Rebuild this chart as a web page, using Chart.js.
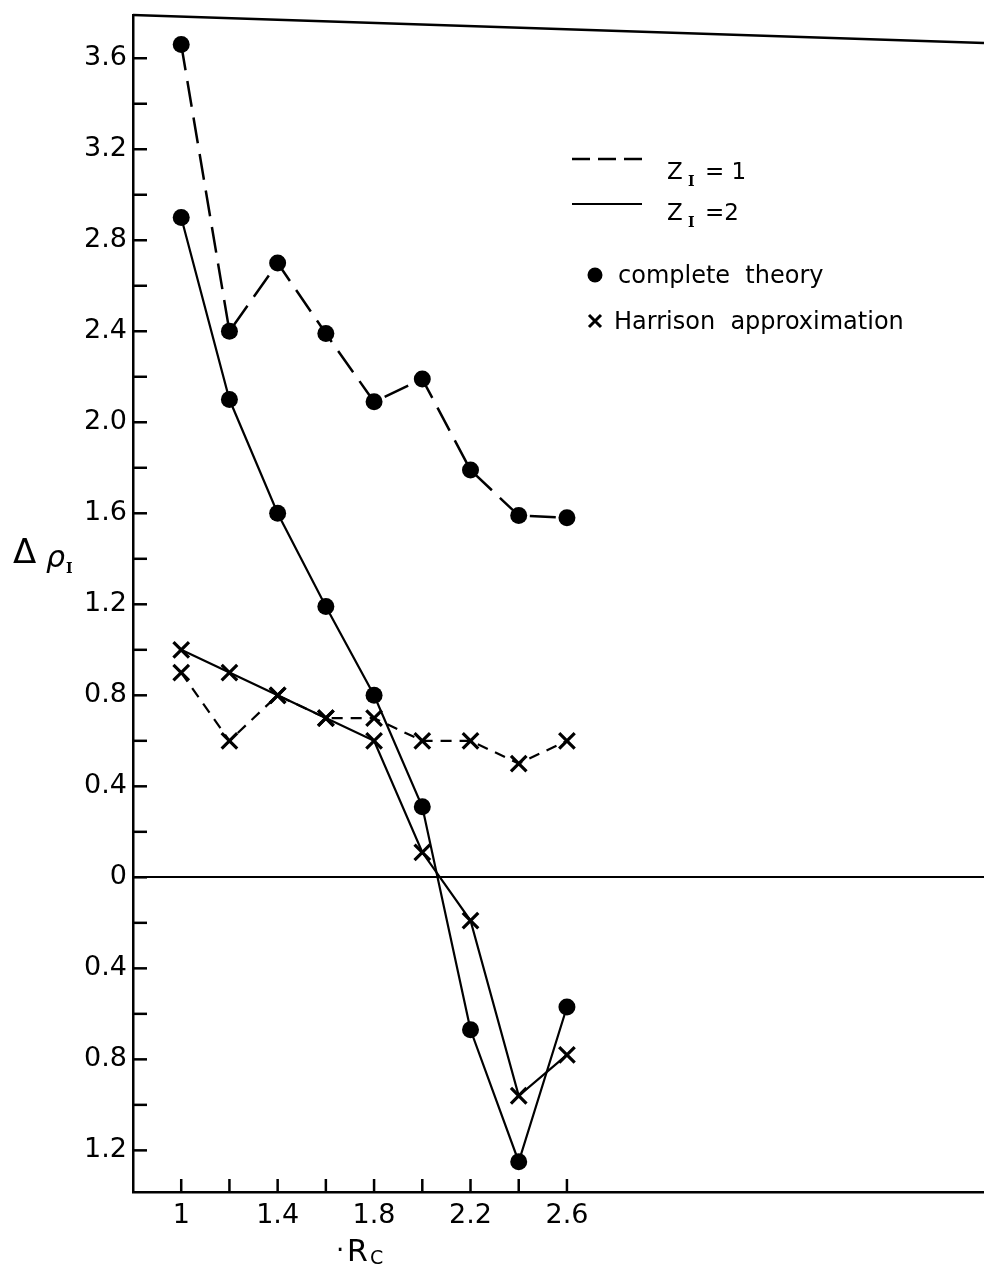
<!DOCTYPE html>
<html lang="en">
<head>
<meta charset="UTF-8">
<title>Delta rho versus Rc</title>
<script src="https://cdn.jsdelivr.net/npm/chart.js"></script>
<style>
  html, body { margin: 0; background: #fff; overflow: hidden; }
  canvas { display: block; }
</style>
</head>
<body>
<canvas id="grafico" width="984" height="1266"></canvas>
<script>
// values
const rc = [1.0, 1.2, 1.4, 1.6, 1.8, 2.0, 2.2, 2.4, 2.6];
const completeZ1 = [3.66, 2.40, 2.70, 2.39, 2.09, 2.19, 1.79, 1.59, 1.58];
const completeZ2 = [2.90, 2.10, 1.60, 1.19, 0.80, 0.31, -0.67, -1.25, -0.57];
const harrisonZ1 = [0.90, 0.60, 0.80, 0.70, 0.70, 0.60, 0.60, 0.50, 0.60];
const harrisonZ2 = [1.00, 0.90, 0.80, 0.70, 0.60, 0.11, -0.19, -0.96, -0.78];

const xTicks = [1.0, 1.2, 1.4, 1.6, 1.8, 2.0, 2.2, 2.4, 2.6];
const xTickLabels = ["1", "", "1.4", "", "1.8", "", "2.2", "", "2.6"];
const yTicks = [-1.2, -1.0, -0.8, -0.6, -0.4, -0.2, 0, 0.2, 0.4, 0.6, 0.8, 1.0, 1.2, 1.4, 1.6, 1.8, 2.0, 2.2, 2.4, 2.6, 2.8, 3.0, 3.2, 3.4, 3.6];
const yTickLabels = ["1.2", "", "0.8", "", "0.4", "", "0", "", "0.4", "", "0.8", "", "1.2", "", "1.6", "", "2.0", "", "2.4", "", "2.8", "", "3.2", "", "3.6"];

const FONT = "'DejaVu Sans', sans-serif";
const SERIF = "'DejaVu Serif', serif";
const pares = ys => rc.map((x, i) => ({ x: x, y: ys[i] }));

// frame, inward ticks, axis titles and the legend block
const marcos = {
  id: "marcos",
  afterDraw(chart) {
    const ctx = chart.ctx;
    const { left, top, right, bottom } = chart.chartArea;
    const x = chart.scales.x;
    const y = chart.scales.y;
    ctx.save();
    ctx.strokeStyle = "#000";
    ctx.fillStyle = "#000";

    // top border (the scan is slightly tilted)
    ctx.lineWidth = 2.5;
    ctx.beginPath();
    ctx.moveTo(left, top);
    ctx.lineTo(right, top + 28);
    ctx.stroke();

    // ticks point into the plot
    yTicks.forEach(v => {
      const py = y.getPixelForValue(v);
      ctx.beginPath();
      ctx.moveTo(left, py);
      ctx.lineTo(left + 14, py);
      ctx.stroke();
    });
    xTicks.forEach(v => {
      const px = x.getPixelForValue(v);
      ctx.beginPath();
      ctx.moveTo(px, bottom);
      ctx.lineTo(px, bottom - 13);
      ctx.stroke();
    });

    // y title: delta rho_I
    ctx.textAlign = "left";
    ctx.textBaseline = "alphabetic";
    ctx.font = "34px " + FONT;
    ctx.fillText("\u0394", 13, 563);
    ctx.font = "italic 30px " + FONT;
    ctx.fillText("\u03C1", 46, 567);
    ctx.font = "bold 14px " + SERIF;
    ctx.fillText("I", 66, 573);

    // x title: R_C
    ctx.font = "26px " + FONT;
    ctx.fillText("\u00B7", 336, 1259);
    ctx.font = "30px " + FONT;
    ctx.fillText("R", 347, 1261);
    ctx.font = "19px " + FONT;
    ctx.fillText("C", 370, 1264);

    // legend: line styles
    ctx.lineWidth = 2.5;
    ctx.setLineDash([18, 8]);
    ctx.beginPath();
    ctx.moveTo(572, 159);
    ctx.lineTo(642, 159);
    ctx.stroke();
    ctx.setLineDash([]);
    ctx.lineWidth = 2;
    ctx.beginPath();
    ctx.moveTo(572, 204);
    ctx.lineTo(642, 204);
    ctx.stroke();

    ctx.font = "23px " + FONT;
    ctx.fillText("Z", 667, 179);
    ctx.fillText("Z", 667, 220);
    ctx.font = "bold 14px " + SERIF;
    ctx.fillText("I", 688, 186);
    ctx.fillText("I", 688, 227);
    ctx.font = "23px " + FONT;
    ctx.fillText("= 1", 705, 179);
    ctx.fillText("=2", 705, 220);

    // legend: markers
    ctx.beginPath();
    ctx.arc(595, 275, 7.5, 0, Math.PI * 2);
    ctx.fill();
    ctx.lineWidth = 3;
    ctx.beginPath();
    ctx.moveTo(589, 315); ctx.lineTo(601, 327);
    ctx.moveTo(601, 315); ctx.lineTo(589, 327);
    ctx.stroke();
    ctx.font = "24px " + FONT;
    ctx.fillText("complete  theory", 618, 283);
    ctx.fillText("Harrison  approximation", 614, 329);
    ctx.restore();
  }
};

new Chart(document.getElementById("grafico"), {
  type: "line",
  data: {
    datasets: [
      {
        label: "complete theory, Z_I = 1",
        data: pares(completeZ1),
        borderColor: "#000",
        backgroundColor: "#000",
        borderWidth: 2.5,
        borderDash: [26, 11],
        pointStyle: "circle",
        pointRadius: 8.5,
        pointBorderWidth: 0
      },
      {
        label: "complete theory, Z_I = 2",
        data: pares(completeZ2),
        borderColor: "#000",
        backgroundColor: "#000",
        borderWidth: 2.2,
        pointStyle: "circle",
        pointRadius: 8.5,
        pointBorderWidth: 0
      },
      {
        label: "Harrison approximation, Z_I = 1",
        data: pares(harrisonZ1),
        borderColor: "#000",
        backgroundColor: "#000",
        borderWidth: 2.2,
        borderDash: [11, 8],
        pointStyle: "crossRot",
        pointRadius: 11,
        pointBorderWidth: 3.2
      },
      {
        label: "Harrison approximation, Z_I = 2",
        data: pares(harrisonZ2),
        borderColor: "#000",
        backgroundColor: "#000",
        borderWidth: 2.2,
        pointStyle: "crossRot",
        pointRadius: 11,
        pointBorderWidth: 3.2
      }
    ]
  },
  options: {
    responsive: false,
    animation: false,
    events: [],
    clip: false,
    layout: { autoPadding: false, padding: { top: 15, right: 0, bottom: 0, left: 0 } },
    plugins: {
      legend: { display: false },
      tooltip: { enabled: false }
    },
    scales: {
      x: {
        type: "linear",
        min: 0.8,
        max: 4.33,
        afterFit: s => { s.height = 74; s.paddingLeft = 0; s.paddingRight = 0; },
        afterBuildTicks: s => { s.ticks = xTicks.map(v => ({ value: v })); },
        border: { display: true, color: "#000", width: 2.5 },
        grid: { display: false, drawTicks: false },
        ticks: {
          autoSkip: false,
          maxRotation: 0,
          padding: 8,
          color: "#000",
          font: { family: FONT, size: 27 },
          callback: (v, i) => xTickLabels[i]
        }
      },
      y: {
        min: -1.383,
        max: 3.79,
        afterFit: s => { s.width = 133; s.paddingTop = 0; s.paddingBottom = 0; },
        afterBuildTicks: s => { s.ticks = yTicks.map(v => ({ value: v })); },
        border: { display: true, color: "#000", width: 2.5 },
        grid: {
          drawTicks: false,
          lineWidth: 2,
          color: c => (c.tick && c.tick.value === 0 ? "#000" : "rgba(0,0,0,0)")
        },
        ticks: {
          autoSkip: false,
          padding: 6,
          color: "#000",
          font: { family: FONT, size: 27 },
          callback: (v, i) => yTickLabels[i]
        }
      }
    }
  },
  plugins: [marcos]
});
</script>
</body>
</html>
